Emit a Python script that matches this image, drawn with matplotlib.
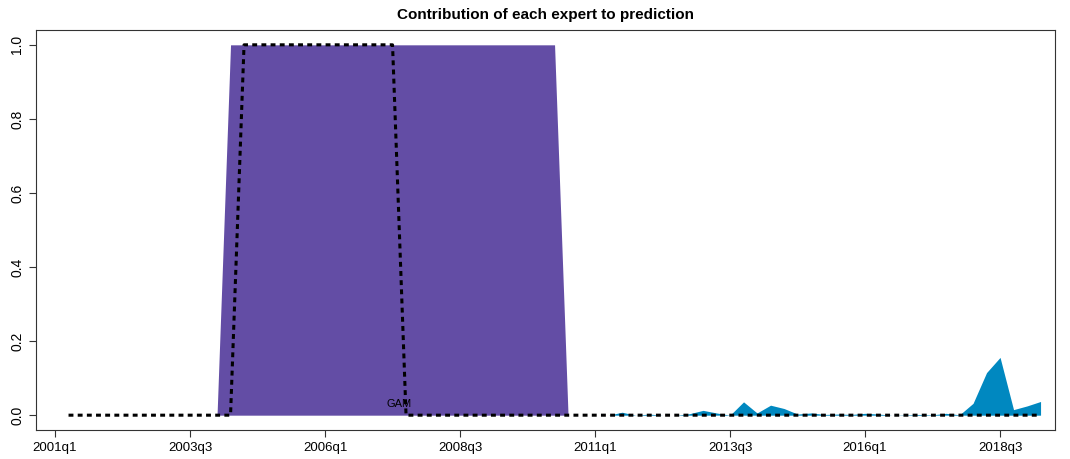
import numpy as np
import matplotlib
matplotlib.use("Agg")
import matplotlib.pyplot as plt

plt.rcParams['font.family'] = ['Liberation Sans', 'DejaVu Sans']

n = 74
years = [2001 + i // 4 for i in range(n)]
quarters = [i % 4 + 1 for i in range(n)]
labels = [f"{y}q{q}" for y, q in zip(years, quarters)]

# purple expert weight
purple = np.zeros(n)
purple[13:38] = 1.0

# blue expert weight
blue_idx = list(range(38, 74))
blue_vals = [0, 0, 0, 0, 0.008, 0, 0.003, 0, 0, 0.004, 0.013, 0.006, 0, 0.036,
             0.006, 0.027, 0.018, 0.003, 0.006, 0.002, 0.003, 0.002, 0.005, 0.003,
             0, 0.001, 0.002, 0.001, 0.005, 0.001, 0.032, 0.115, 0.156, 0.015,
             0.025, 0.037]
blue = np.zeros(n)
blue[blue_idx] = blue_vals

# prediction-dotted line
dotted = np.zeros(n)
dotted[14:26] = 1.0
dot_start = 1

x = np.arange(n)
fig = plt.figure(figsize=(10.7, 4.59), dpi=100)
ax = fig.add_axes([36/1070, 29/459, 1019/1070, 400/459])

ax.fill_between(x[11:39], 0, purple[11:39], color='#634DA5', lw=0)
ax.fill_between(x[37:], purple[37:], purple[37:] + blue[37:], color='#0088C0', lw=0)
ax.plot(x[dot_start:], dotted[dot_start:], color='black', ls=(0, (1.6, 1.4)), lw=2.2)
ax.text(25.5, 0.03, "GAM", fontsize=8, ha='center', va='center')

ax.set_xlim(-1.41, 74.07)
ax.set_ylim(-0.04, 1.04)
ticks = list(range(0, n, 10))
ax.set_xticks(ticks)
ax.set_xticklabels([labels[i] for i in ticks], fontsize=9.5)
ax.set_yticks([0, 0.2, 0.4, 0.6, 0.8, 1.0])
ax.set_yticklabels(["0.0", "0.2", "0.4", "0.6", "0.8", "1.0"], rotation=90, va='center', fontsize=10)
ax.tick_params(length=5, color='#333333')
for s in ax.spines.values():
    s.set_color('#333333')
ax.set_title("Contribution of each expert to prediction", fontweight='bold', fontsize=11, pad=8)
fig.savefig("out.png", dpi=100)
